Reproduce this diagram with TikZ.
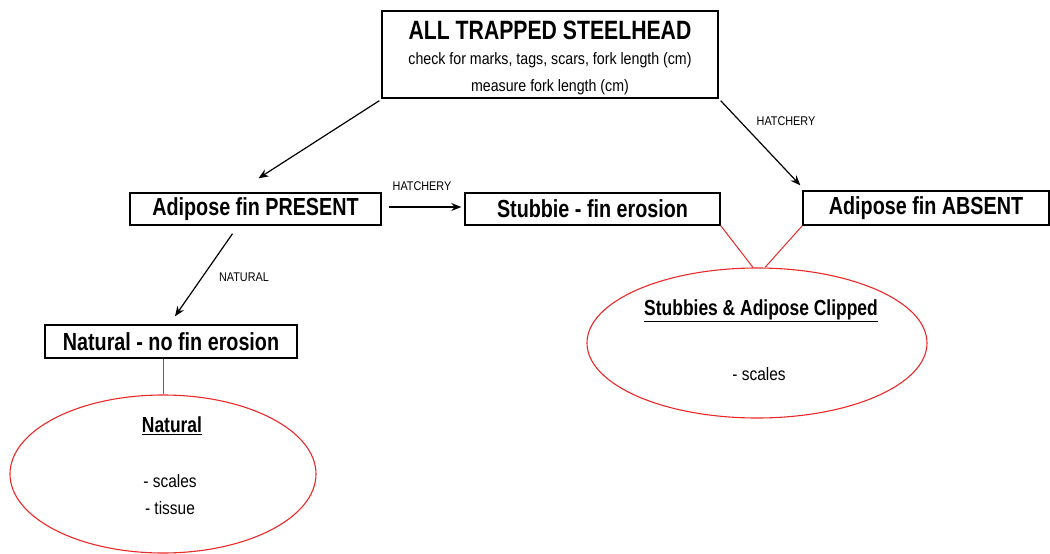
\documentclass[tikz,border=0pt]{standalone}
\usepackage{fontspec}
\setmainfont[FakeStretch=0.86]{Liberation Sans}
\newfontfamily\headfont[FakeStretch=0.8]{Liberation Sans}
\usetikzlibrary{arrows.meta,shapes.geometric}
\definecolor{redline}{RGB}{235,40,40}
\tikzset{
  x=1pt, y=-1pt,
  box/.style={draw=black, line width=1.4pt, fill=white, inner sep=0pt},
  boxtxt/.style={font=\headfont\fontsize{24.7}{26}\selectfont\bfseries, inner sep=0pt},
  small/.style={font=\fontsize{16.5}{18}\selectfont, inner sep=0pt},
  tiny/.style={font=\fontsize{12.6}{14}\selectfont, inner sep=0pt},
  arr/.style={draw=black, line width=1.2pt, -{Stealth[length=10pt,width=8pt]}},
  redl/.style={draw=redline, line width=1pt},
  oval/.style={draw=redline, line width=1.1pt, ellipse, inner sep=0pt},
  ovtitle/.style={font=\headfont\fontsize{21.8}{23}\selectfont\bfseries, inner sep=0pt},
  ovtxt/.style={font=\fontsize{18}{20}\selectfont, inner sep=0pt}
}
\begin{document}
\begin{tikzpicture}
\useasboundingbox (0,0) rectangle (1050,554);
% boxes
\node[box, minimum width=336, minimum height=87] (top) at (550,54.5) {};
\node[font=\headfont\fontsize{26.5}{28}\selectfont\bfseries, inner sep=0pt] (t1) at (550,30) {ALL TRAPPED STEELHEAD};
\node[small] (t2) at (550,60) {check for marks, tags, scars, fork length (cm)};
\node[small] (t3) at (550,87) {measure fork length (cm)};

\node[box, minimum width=251, minimum height=32, boxtxt] (present) at (255.5,209) {Adipose fin PRESENT};
\node[box, minimum width=255, minimum height=32, boxtxt] (stubbie) at (592.5,209) {Stubbie - fin erosion};
\node[box, minimum width=246, minimum height=34, boxtxt] (absent) at (926,208) {Adipose fin ABSENT};
\node[box, minimum width=252, minimum height=33, boxtxt] (natural) at (171,341.5) {Natural - no fin erosion};

% ellipses
\node[oval, minimum width=306, minimum height=158] (natoval) at (163,474) {};
\node[ovtitle] (natt) at (172,426) {\underline{Natural}};
\node[ovtxt] (nats) at (170,481) {- scales};
\node[ovtxt] (natti) at (170,508) {- tissue};

\node[oval, minimum width=340, minimum height=150] (stuoval) at (757,343) {};
\node[ovtitle] (stut) at (761,311) {\underline{Stubbies \& Adipose Clipped}};
\node[ovtxt] (stus) at (759,374) {- scales};

% arrows
\draw[arr] ([shift={(-2,2)}]top.south west) -- ([shift={(3,-14)}]present.north);
\draw[arr] ([shift={(2,2)}]top.south east) -- ([shift={(-2,-5)}]absent.north west);
\node[tiny] (lh1) at (786,121) {HATCHERY};
\draw[arr] ([shift={(7,-2)}]present.east) -- ([shift={(-3,-2)}]stubbie.west);
\node[tiny] (lh2) at (422,186) {HATCHERY};
\draw[arr] ([shift={(-23,8)}]present.south) -- ([shift={(4,-8)}]natural.north);
\node[tiny] (ln) at (244,277) {NATURAL};

% red connectors
\draw[redl] ([xshift=-8]natural.south) -- (natoval.north);
\draw[redl] (stubbie.south east) -- ([xshift=-4]stuoval.north);
\draw[redl] (absent.south west) -- ([xshift=8]stuoval.north);
\end{tikzpicture}
\end{document}
